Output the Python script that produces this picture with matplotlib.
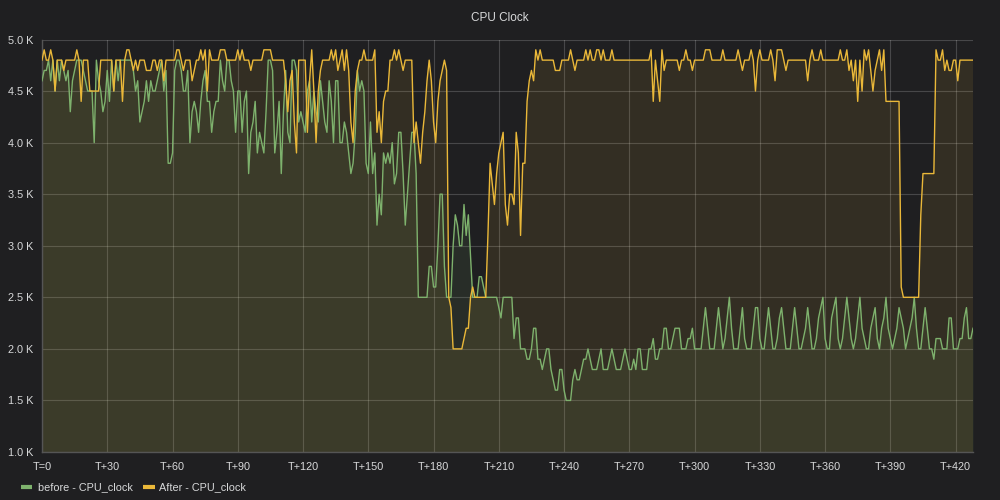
import numpy as np
import matplotlib
matplotlib.use("Agg")
import matplotlib.pyplot as plt
from matplotlib.lines import Line2D

# CPU clock in units of 100 MHz, one sample per time step (T=0 .. T+428)
after_clock = [
    48,49,48,48,49,48,45,48,48,48,
    47,48,48,48,48,48,49,48,44,48,
    48,48,45,45,45,45,45,48,48,48,
    48,48,48,45,48,48,48,44,48,49,
    49,48,47,48,47,48,48,48,47,47,
    47,48,48,47,48,48,46,48,48,48,
    48,48,49,49,48,47,48,48,48,46,
    47,48,48,49,48,49,45,49,48,48,
    48,48,49,49,49,48,48,48,48,48,
    49,48,49,48,48,48,47,48,48,48,
    48,48,49,49,49,49,48,48,48,48,
    48,48,46,43,46,47,42,39,48,48,
    48,48,41,46,49,45,40,45,47,48,
    48,48,48,49,48,49,47,48,49,47,
    49,47,42,40,45,47,48,48,49,48,
    48,48,48,49,41,43,40,44,45,45,
    48,48,49,48,49,48,47,48,48,48,
    48,40,42,40,38,41,43,46,48,46,
    42,40,44,46,47,48,47,25,24,20,
    20,20,20,20,21,22,22,25,26,25,
    25,25,25,25,25,31,38,36,34,37,
    39,40,41,34,32,35,35,34,41,39,
    31,38,38,44,46,47,46,49,48,49,
    48,48,48,48,48,48,47,47,47,48,
    48,48,48,49,48,47,48,48,48,48,
    49,48,49,48,48,49,49,48,49,48,
    48,48,49,48,48,48,48,48,48,48,
    48,48,48,48,48,48,48,48,48,48,
    49,44,48,46,44,49,47,48,48,48,
    48,48,48,47,48,48,49,48,48,47,
    48,48,48,48,48,49,49,49,48,48,
    48,48,48,49,48,48,48,48,48,48,
    49,48,47,48,48,48,49,48,45,48,
    49,48,48,48,48,49,48,46,49,49,
    49,48,47,48,48,48,48,48,48,48,
    48,48,46,48,49,48,48,48,49,48,
    48,48,48,48,48,48,48,49,48,48,
    49,47,48,46,48,44,48,45,49,48,
    49,47,45,47,48,49,47,49,44,44,
    44,44,44,44,44,26,25,25,25,25,
    25,25,25,25,33,37,37,37,37,37,
    37,49,48,48,49,47,48,47,47,48,
    48,46,48,48,48,48,48,48,48,
]

before_clock = [
    46,47,47,48,46,48,45,48,46,48,
    47,46,47,43,46,47,48,48,48,47,
    46,45,45,45,40,48,46,45,43,44,
    47,44,48,45,48,46,48,48,48,48,
    48,48,47,45,46,42,43,44,46,44,
    46,45,45,46,47,48,45,47,38,38,
    39,47,48,48,47,45,45,47,40,43,
    44,43,41,44,46,47,44,44,41,43,
    44,44,48,46,45,48,48,46,45,41,
    45,45,41,44,45,37,41,42,44,39,
    41,40,39,43,48,48,47,39,41,44,
    37,43,47,41,40,48,48,47,42,43,
    42,41,45,46,42,45,43,42,46,44,
    42,41,46,44,40,46,46,40,40,42,
    41,39,37,38,41,47,45,46,45,38,
    37,42,37,39,32,35,33,39,38,39,
    38,40,36,37,41,41,37,32,35,38,
    41,41,37,25,25,25,25,25,28,28,
    26,26,30,35,35,28,25,25,25,30,
    33,32,30,30,34,31,33,29,25,25,
    25,27,27,26,25,25,25,25,25,25,
    24,23,25,25,25,25,25,21,23,23,
    20,20,20,19,19,20,22,22,19,19,
    18,19,20,20,18,17,16,16,18,18,
    16,15,15,15,17,18,17,17,18,19,
    19,20,19,18,18,18,19,20,18,18,
    18,19,20,19,18,18,18,19,20,19,
    18,18,19,18,20,20,18,18,18,20,
    20,21,19,19,20,20,22,22,20,20,
    21,22,22,22,20,20,20,21,21,22,
    20,20,20,20,22,24,22,20,20,20,
    22,24,22,20,21,23,25,22,20,20,
    20,22,24,21,20,20,20,22,24,24,
    21,20,20,22,24,22,20,20,21,23,
    24,22,20,20,20,22,24,22,20,20,
    21,22,24,22,20,20,21,23,24,25,
    21,20,20,23,24,25,21,20,21,23,
    25,23,21,20,21,23,25,22,21,20,
    20,22,23,24,21,20,22,23,25,22,
    21,20,21,22,24,23,22,20,21,22,
    23,25,22,20,20,22,24,22,20,20,
    19,21,21,21,20,20,20,23,23,20,
    20,20,21,21,23,24,21,21,22,
]

x_ticks = list(range(0, 421, 30))
x_labels = ["T=0"] + ["T+%d" % t for t in x_ticks[1:]]
y_ticks = [1000, 1500, 2000, 2500, 3000, 3500, 4000, 4500, 5000]
y_labels = ["%.1f K" % (v / 1000) for v in y_ticks]
series_names = ["before - CPU_clock", "After - CPU_clock"]

BG = "#1f1f21"
TXT = "#d8d9da"
GREEN = "#7eb26d"
YELLOW = "#eab839"

plt.rcParams['font.family'] = ['Liberation Sans', 'DejaVu Sans']

fig = plt.figure(figsize=(10, 5), dpi=100, facecolor=BG)
ax = fig.add_axes([0.042, 0.096, 0.931, 0.825])
ax.set_facecolor(BG)

before = np.array(before_clock) * 100.0
after = np.array(after_clock) * 100.0
tb = np.arange(len(before))
ta = np.arange(len(after))

ax.fill_between(tb, 0, before, color=GREEN, alpha=0.1, linewidth=0, zorder=2)
ax.fill_between(ta, 0, after, color=YELLOW, alpha=0.1, linewidth=0, zorder=2)
ax.plot(tb, before, color=GREEN, lw=1.0, zorder=3)
ax.plot(ta, after, color=YELLOW, lw=1.0, zorder=4)

ax.set_xlim(0, 428)
ax.set_ylim(1000, 5000)
ax.set_xticks(x_ticks)
ax.set_xticklabels(x_labels)
ax.set_yticks(y_ticks)
ax.set_yticklabels(y_labels)
ax.tick_params(axis='both', length=0, colors=TXT, labelsize=7.8)
ax.tick_params(axis='x', pad=7)
ax.tick_params(axis='y', pad=6)
ax.grid(True, color='#ffffff', alpha=0.18, lw=0.8, zorder=1)
ax.set_axisbelow(True)
for s in ['top', 'right']:
    ax.spines[s].set_visible(False)
for s in ['left', 'bottom']:
    ax.spines[s].set_color('#555555')
    ax.spines[s].set_linewidth(1.0)

fig.text(0.5, 0.964, "CPU Clock", ha='center', va='center', color=TXT, fontsize=8.5)

# legend
ly = 1 - 487 / 500
for (x0, x1, tx), col, name in zip([(0.021, 0.032, 0.0375), (0.143, 0.155, 0.159)],
                                  [GREEN, YELLOW], series_names):
    fig.add_artist(Line2D([x0, x1], [ly, ly], transform=fig.transFigure,
                          color=col, lw=3, solid_capstyle='butt'))
    fig.text(tx, ly, name, ha='left', va='center', color=TXT, fontsize=7.8)

fig.savefig("out.png", dpi=100, facecolor=BG)
